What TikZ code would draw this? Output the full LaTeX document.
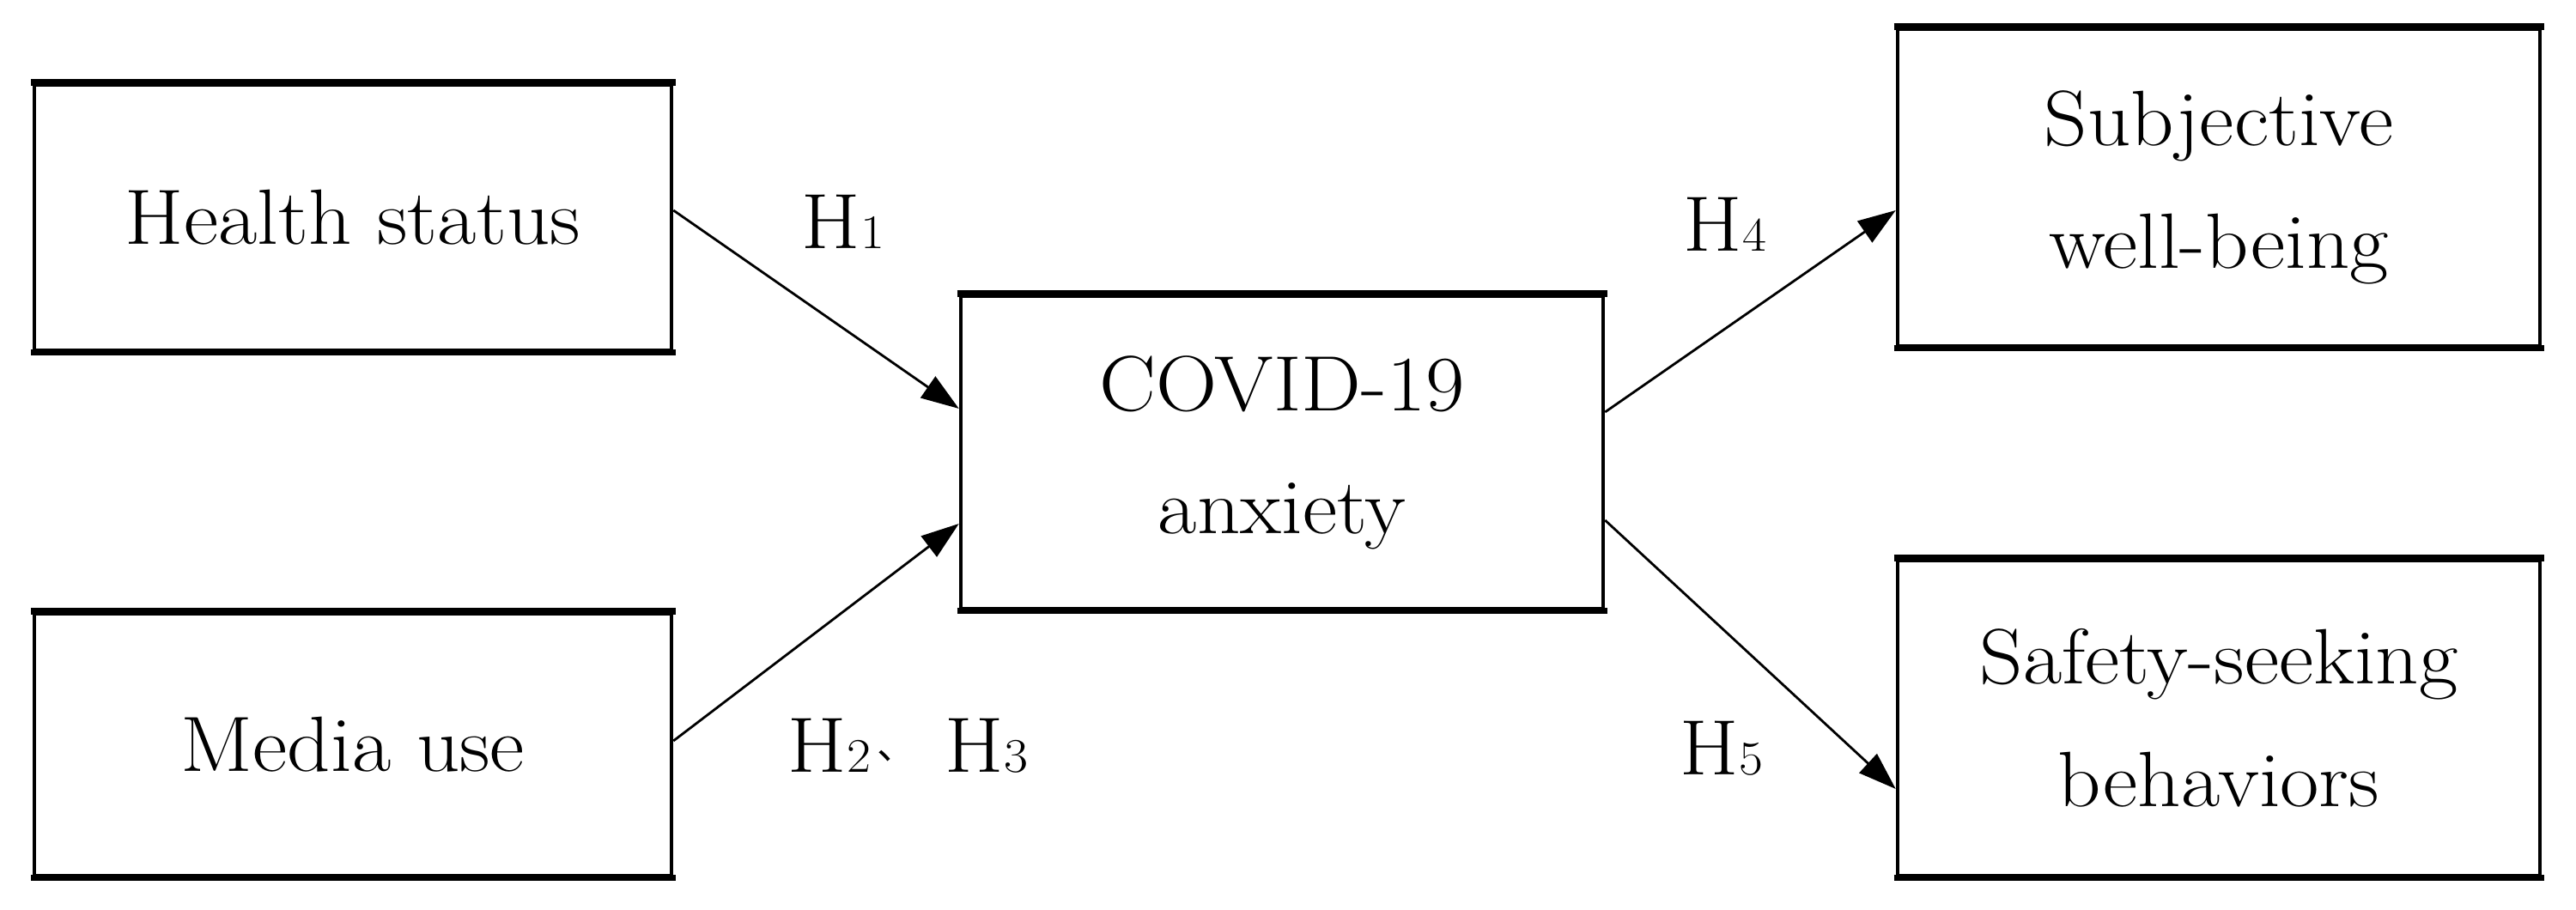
\documentclass[tikz,border=0pt]{standalone}
\usepackage{fontspec}
\setmainfont{Latin Modern Roman}[FakeStretch=1.08]
\newfontfamily\cjk{Noto Sans CJK SC}
\usetikzlibrary{arrows.meta,calc}
\newcommand{\hsub}[1]{{\fontsize{16}{16}\selectfont #1}}
\newcommand{\dunhao}{\hspace{0.08cm}\raisebox{4.5pt}{\cjk\fontsize{13}{13}\selectfont 、}\hspace{0.33cm}}
\tikzset{
  box/.style={draw, line width=0.045cm, inner sep=0pt, align=center,
              font=\fontsize{26}{40.7}\selectfont},
  boxedge/.style={line width=0.075cm, line cap=butt},
  conn/.style={line width=0.028cm, -{Triangle[length=0.44cm,width=0.3cm]}},
  hlab/.style={font=\fontsize{26}{30}\selectfont, inner sep=0pt, anchor=base west}
}
\begin{document}
\begin{tikzpicture}
\useasboundingbox (0,0) rectangle (30,10.6);
\node[box, minimum width=7.42cm, minimum height=3.10cm] (hs) at (4.11,8.065) {Health status};
\node[box, minimum width=7.42cm, minimum height=3.06cm] (mu) at (4.11,1.925) {Media use};
\node[box, minimum width=7.48cm, minimum height=3.65cm] (cv) at (14.93,5.33) {COVID-19\\anxiety};
\node[box, minimum width=7.48cm, minimum height=3.70cm] (sw) at (25.84,8.415) {Subjective\\well-being};
\node[box, minimum width=7.48cm, minimum height=3.68cm] (ss) at (25.84,2.235) {Safety-seeking\\behaviors};

\foreach \n in {hs,mu,cv,sw,ss}{
  \draw[boxedge] ($(\n.north west)+(-0.0225,0)$) -- ($(\n.north east)+(0.0225,0)$);
  \draw[boxedge] ($(\n.south west)+(-0.0225,0)$) -- ($(\n.south east)+(0.0225,0)$);
}

\draw[conn] ($(hs.east)+(0,0.085)$) -- ($(cv.west)+(0,0.51)$);
\draw[conn] ($(mu.east)+(0,0.045)$) -- ($(cv.west)+(0,-0.83)$);
\draw[conn] ($(cv.east)+(0,0.47)$) -- ($(sw.west)+(0,-0.265)$);
\draw[conn] ($(cv.east)+(0,-0.79)$) -- ($(ss.west)+(0,-0.825)$);

\node[hlab] (h1) at (9.33,7.70) {H\hsub{1}};
\node[hlab] (h23) at (9.17,1.60) {H\hsub{2}\dunhao H\hsub{3}};
\node[hlab] (h4) at (19.60,7.67) {H\hsub{4}};
\node[hlab] (h5) at (19.56,1.57) {H\hsub{5}};
\end{tikzpicture}
\end{document}
